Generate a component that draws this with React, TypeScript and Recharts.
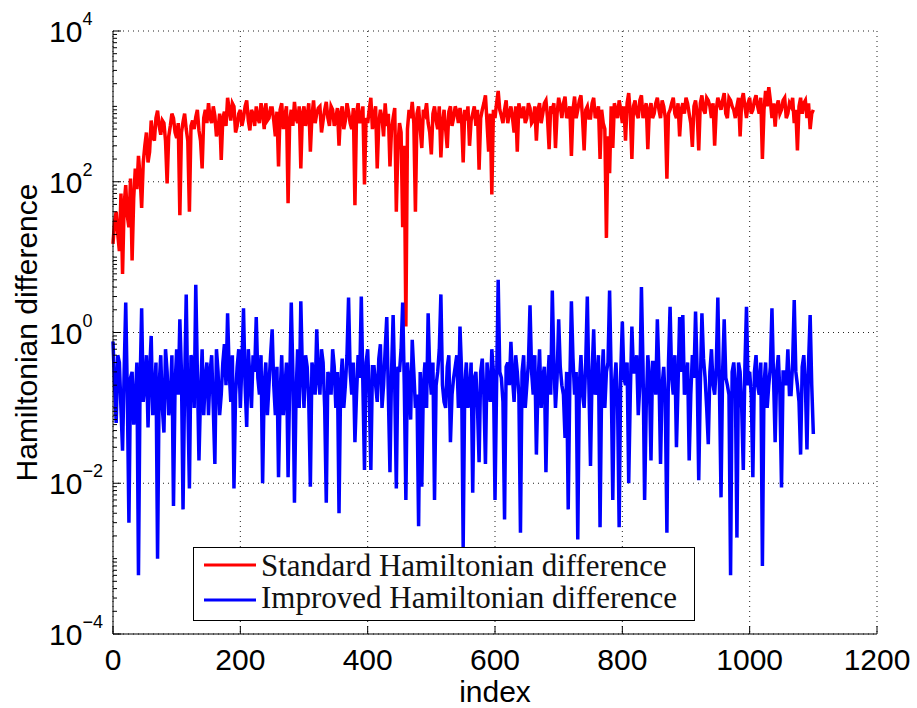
import React from 'react';
import { LineChart, Line, XAxis, YAxis, CartesianGrid, Legend, Label } from 'recharts';

// Values. "Main" samples sit at index 0, 5, 10, ... 1100;
// "Mid" samples sit half-way between them (2.5, 7.5, ... 1097.5).
const INDEX_STEP = 5;

const standardDiffMain = [
  15, 40, 12, 6, 90, 25, 9, 150, 220, 45,
  300, 180, 650, 350, 880, 420, 600, 95, 550, 700,
  380, 36, 620, 500, 40, 650, 720, 480, 150, 900,
  1100, 600, 750, 500, 195, 850, 1300, 650, 1000, 550,
  900, 700, 1200, 480, 800, 1000, 600, 850, 1100, 700,
  950, 400, 160, 1100, 750, 52, 900, 1150, 600, 150,
  1000, 750, 250, 1200, 800, 1000, 650, 1150, 550, 900,
  700, 300, 1000, 650, 850, 500, 49, 1100, 700, 92,
  600, 1300, 750, 150, 900, 400, 550, 160, 700, 40,
  600, 25, 1.2, 900, 1150, 40, 1000, 280, 800, 600,
  230, 1000, 500, 210, 900, 280, 1000, 700, 850, 950,
  180, 650, 300, 800, 550, 145, 900, 1400, 250, 68,
  700, 1600, 750, 900, 600, 1000, 450, 250, 850, 1000,
  700, 950, 650, 350, 1100, 800, 1200, 270, 900, 280,
  1300, 700, 1350, 800, 220, 1350, 900, 1400, 260, 1000,
  700, 1300, 800, 200, 600, 18, 130, 280, 900, 1200,
  600, 350, 1500, 200, 1200, 700, 1400, 900, 270, 1100,
  800, 1300, 700, 1000, 110, 900, 1300, 700, 400, 1100,
  1300, 800, 290, 1200, 260, 1400, 800, 1200, 700, 300,
  1300, 900, 1500, 700, 1200, 900, 1000, 400, 1500, 700,
  1300, 900, 1400, 800, 200, 1600, 1800, 700, 540, 1200,
  900, 1300, 800, 1000, 600, 260, 1300, 1100, 700, 500,
  900,
];

const standardDiffMid = [
  30, 20, 70, 50, 35, 110, 60, 80, 120, 180,
  450, 250, 400, 700, 550, 650, 350, 400, 800, 450,
  600, 450, 800, 350, 550, 500, 900, 350, 700, 600,
  700, 1000, 400, 800, 700, 550, 900, 1100, 450, 800,
  550, 1000, 650, 900, 550, 700, 1100, 500, 650, 950,
  650, 850, 900, 500, 1000, 650, 550, 700, 1000, 800,
  550, 1100, 750, 600, 950, 450, 900, 700, 1000, 550,
  950, 800, 500, 1100, 600, 950, 800, 600, 1000, 700,
  900, 500, 1000, 600, 700, 1100, 800, 500, 950, 300,
  450, 300, 500, 700, 600, 800, 500, 900, 1100, 450,
  800, 650, 1000, 600, 500, 850, 550, 1000, 600, 700,
  900, 1000, 650, 1000, 900, 700, 1100, 600, 800, 900,
  1100, 900, 600, 1200, 800, 700, 1000, 1100, 700, 600,
  1100, 600, 1000, 900, 600, 1100, 700, 1000, 1100, 800,
  1000, 1100, 700, 1000, 900, 700, 1200, 700, 900, 700,
  1100, 700, 1000, 900, 500, 400, 1000, 1100, 700, 900,
  1000, 1100, 800, 1000, 800, 1200, 700, 1100, 900, 700,
  1100, 900, 1200, 700, 800, 1100, 800, 1100, 900, 800,
  1100, 600, 1000, 800, 1100, 900, 1300, 1000, 1100, 900,
  1100, 1200, 800, 1300, 1000, 700, 1300, 1200, 1000, 1100,
  800, 1200, 1000, 1300, 900, 1000, 1200, 1100, 1000, 800,
  1200, 700, 1100, 1300, 900, 1000, 800, 1200, 1100, 800,
];

const improvedDiffMain = [
  0.76, 0.063, 0.4, 0.027, 2.5, 0.003, 0.3, 0.12, 0.0006, 2.1,
  0.2, 0.055, 0.9, 0.15, 0.001, 0.5, 0.047, 0.3, 0.12, 0.005,
  0.6, 1.5, 0.0045, 3.2, 0.0085, 0.4, 4.3, 0.02, 0.6, 0.25,
  0.08, 0.5, 0.018, 0.3, 0.15, 0.7, 1.8, 0.12, 0.0085, 0.35,
  0.1, 2.1, 0.056, 0.25, 0.5, 1.6, 0.15, 0.01, 0.4, 0.2,
  1.1, 0.08, 0.012, 0.5, 0.18, 0.012, 2.5, 0.0055, 0.6, 2.6,
  0.1, 0.35, 0.009, 0.3, 1.1, 0.15, 0.4, 0.0055, 0.25, 0.6,
  0.1, 0.004, 0.45, 0.2, 2.9, 0.15, 0.035, 0.5, 3.0, 0.015,
  0.6, 0.015, 0.35, 0.12, 0.7, 0.2, 1.6, 0.014, 1.7, 0.0085,
  0.3, 2.5, 0.006, 0.2, 0.8, 0.1, 0.0027, 0.009, 0.4, 1.8,
  0.15, 0.006, 0.3, 3.2, 0.12, 0.35, 0.035, 0.25, 0.5, 1.2,
  0.0014, 0.4, 0.15, 0.0075, 0.3, 0.019, 0.45, 0.018, 0.2, 0.6,
  0.006, 5, 0.25, 0.0033, 0.4, 0.75, 0.12, 0.3, 0.0022, 0.5,
  0.2, 2.3, 0.15, 0.024, 0.6, 0.25, 0.014, 0.5, 3.6, 0.1,
  1.5, 0.2, 0.04, 0.0045, 2.6, 0.15, 0.0018, 0.5, 0.1, 3.0,
  0.017, 1.1, 0.2, 0.0026, 0.6, 0.3, 3.6, 0.006, 0.4, 0.0026,
  1.4, 0.2, 0.01, 1.2, 0.3, 0.08, 4.0, 0.006, 0.5, 0.02,
  0.4, 1.5, 0.018, 0.35, 0.0022, 2.2, 0.15, 0.03, 1.6, 1.7,
  0.2, 0.02, 0.5, 1.9, 0.011, 1.8, 0.25, 0.033, 0.6, 0.15,
  2.9, 0.0065, 1.5, 0.2, 0.0006, 0.4, 0.0019, 0.3, 0.015, 2.2,
  0.3, 0.012, 0.5, 0.15, 0.0008, 0.4, 0.2, 2.1, 0.035, 0.5,
  0.0088, 0.3, 0.6, 0.15, 2.7, 0.2, 0.024, 0.5, 0.028, 1.7,
  0.045,
];

const improvedDiffMid = [
  0.2, 0.5, 0.1, 0.3, 0.15, 0.25, 0.06, 0.4, 0.2, 0.12,
  0.5, 0.3, 0.08, 0.4, 0.2, 0.1, 0.6, 0.08, 0.5, 0.2,
  0.15, 0.3, 0.2, 0.12, 0.5, 0.1, 0.3, 0.15, 0.08, 0.4,
  0.3, 0.1, 0.6, 0.08, 0.4, 0.2, 0.3, 0.5, 0.15, 0.6,
  0.4, 0.2, 0.6, 0.1, 0.3, 0.25, 0.5, 0.2, 0.08, 0.5,
  0.2, 0.35, 0.15, 0.08, 0.4, 0.2, 0.3, 0.15, 0.1, 0.3,
  0.5, 0.12, 0.4, 0.15, 0.25, 0.6, 0.1, 0.3, 0.15, 0.35,
  0.3, 0.2, 0.1, 0.5, 0.3, 0.4, 0.15, 0.25, 0.2, 0.4,
  0.15, 0.35, 0.2, 0.45, 0.1, 0.6, 0.15, 0.3, 0.2, 0.35,
  0.6, 0.2, 0.4, 0.07, 0.3, 0.15, 0.3, 0.2, 0.1, 0.3,
  0.4, 0.2, 0.6, 0.2, 0.1, 0.5, 0.15, 0.35, 0.1, 0.3,
  0.2, 0.1, 0.4, 0.25, 0.1, 0.3, 0.15, 0.4, 0.12, 0.3,
  0.2, 0.3, 0.12, 0.35, 0.2, 0.25, 0.5, 0.15, 0.3, 0.1,
  0.4, 0.3, 0.5, 0.2, 0.1, 0.35, 0.2, 0.15, 0.4, 0.25,
  0.35, 0.15, 0.3, 0.2, 0.45, 0.3, 0.2, 0.15, 0.4, 0.2,
  0.3, 0.15, 0.5, 0.2, 0.1, 0.4, 0.25, 0.2, 0.12, 0.3,
  0.25, 0.4, 0.15, 0.3, 0.5, 0.2, 0.35, 0.1, 0.25, 0.4,
  0.15, 0.3, 0.2, 0.12, 0.4, 0.25, 0.5, 0.2, 0.3, 0.15,
  0.4, 0.15, 0.25, 0.3, 0.2, 0.45, 0.1, 0.3, 0.2, 0.35,
  0.2, 0.3, 0.25, 0.15, 0.3, 0.2, 0.4, 0.1, 0.35, 0.2,
  0.15, 0.3, 0.2, 0.4, 0.2, 0.1, 0.35, 0.25, 0.3, 0.15,
  0.3, 0.2, 0.15, 0.4, 0.3, 0.12, 0.35, 0.2, 0.4, 0.2,
];

const seriesNames = ['Standard Hamiltonian difference', 'Improved Hamiltonian difference'];
const seriesColors = ['#ff0000', '#0000ff'];

const xTicks = [0, 200, 400, 600, 800, 1000, 1200];
const yMajorTicks = [1e-4, 1e-2, 1, 1e2, 1e4];
const yMajorExponents = ['\u22124', '\u22122', '0', '2', '4'];
const yDecades = [1e-4, 1e-3, 1e-2, 1e-1, 1, 10, 100, 1000];
const yMinorMultipliers = [2, 3, 4, 5, 6, 7, 8, 9];
const yAllTicks = [
  ...yDecades.flatMap((d) => [d, ...yMinorMultipliers.map((m) => m * d)]),
  1e4,
];

const xLabel = 'index';
const yLabel = 'Hamiltonian difference';

// Build the row table by interleaving main and mid samples
const data: { idx: number; standard: number; improved: number }[] = [];
standardDiffMain.forEach((v, i) => {
  data.push({ idx: i * INDEX_STEP, standard: v, improved: improvedDiffMain[i] });
  if (i < standardDiffMid.length) {
    data.push({
      idx: i * INDEX_STEP + INDEX_STEP / 2,
      standard: standardDiffMid[i],
      improved: improvedDiffMid[i],
    });
  }
});

const SANS = '"Liberation Sans", Arial, Helvetica, sans-serif';
const SERIF = '"Liberation Serif", "Times New Roman", serif';

const BottomTick = (props: any) => {
  const { x, y, payload } = props;
  return (
    <g>
      <line x1={x} y1={y} x2={x} y2={y - 8} stroke="#000" strokeWidth={1} />
      <text x={x} y={y + 36} textAnchor="middle" fontFamily={SANS} fontSize={30} fill="#000">
        {payload.value}
      </text>
    </g>
  );
};

const TopTick = (props: any) => {
  const { x, y } = props;
  return <line x1={x} y1={y} x2={x} y2={y + 8} stroke="#000" strokeWidth={1} />;
};

const LeftTick = (props: any) => {
  const { x, y, payload } = props;
  const k = yMajorTicks.indexOf(payload.value);
  const major = k >= 0;
  return (
    <g>
      <line x1={x} y1={y} x2={x + (major ? 8 : 4)} y2={y} stroke="#000" strokeWidth={1} />
      {major && (
        <text x={x - 64} y={y + 11} fontFamily={SANS} fontSize={30} fill="#000">
          10
          <tspan dy={-17} fontSize={18}>
            {yMajorExponents[k]}
          </tspan>
        </text>
      )}
    </g>
  );
};

const RightTick = (props: any) => {
  const { x, y, payload } = props;
  const major = yMajorTicks.indexOf(payload.value) >= 0;
  return <line x1={x} y1={y} x2={x - (major ? 8 : 4)} y2={y} stroke="#000" strokeWidth={1} />;
};

const renderLegend = (props: any) => {
  const payload = props.payload && props.payload.length ? props.payload : [];
  const items = seriesNames.map((name, i) => {
    const p = payload.find((e: any) => e.value === name);
    return { name, color: p ? p.color : seriesColors[i] };
  });
  return (
    <svg width={503} height={75} style={{ display: 'block' }}>
      <rect x={0.5} y={0.5} width={501} height={73} fill="#fff" stroke="#000" strokeWidth={1} />
      {items.map((it, i) => (
        <g key={it.name}>
          <line x1={11} x2={63} y1={18 + i * 35} y2={18 + i * 35} stroke={it.color} strokeWidth={3} />
          <text x={68} y={29 + i * 32} fontFamily={SERIF} fontSize={31} fill="#111">
            {it.name}
          </text>
        </g>
      ))}
    </svg>
  );
};

export default function App() {
  return (
    <div style={{ position: 'absolute', left: 0, top: 0, background: '#fff' }}>
      <LineChart
        width={917}
        height={708}
        data={data}
        margin={{ top: 31, right: 40, bottom: 14, left: 13 }}
      >
        <CartesianGrid
          xAxisId="b"
          yAxisId="L"
          stroke="#222"
          strokeDasharray="1 4"
          horizontalValues={yMajorTicks}
          verticalValues={xTicks}
        />
        <XAxis
          xAxisId="b"
          dataKey="idx"
          type="number"
          domain={[0, 1200]}
          ticks={xTicks}
          interval={0}
          height={60}
          tickSize={0}
          tickMargin={0}
          tickLine={false}
          axisLine={{ stroke: '#000', strokeWidth: 1 }}
          tick={<BottomTick />}
        >
          <Label
            content={(p: any) => {
              const vb = p.viewBox || { x: 113, y: 634, width: 764, height: 60 };
              return (
                <text
                  x={vb.x + vb.width / 2}
                  y={vb.y + 68}
                  textAnchor="middle"
                  fontFamily={SANS}
                  fontSize={30}
                  fill="#000"
                >
                  {xLabel}
                </text>
              );
            }}
          />
        </XAxis>
        <XAxis
          xAxisId="t"
          orientation="top"
          dataKey="idx"
          type="number"
          domain={[0, 1200]}
          ticks={xTicks}
          interval={0}
          height={0}
          tickSize={0}
          tickMargin={0}
          tickLine={false}
          axisLine={{ stroke: '#000', strokeWidth: 1 }}
          tick={<TopTick />}
        />
        <YAxis
          yAxisId="L"
          type="number"
          scale="log"
          domain={[1e-4, 1e4]}
          allowDataOverflow
          ticks={yAllTicks}
          interval={0}
          width={100}
          tickSize={0}
          tickMargin={0}
          tickLine={false}
          axisLine={{ stroke: '#000', strokeWidth: 1 }}
          tick={<LeftTick />}
        >
          <Label
            content={(p: any) => {
              const vb = p.viewBox || { x: 13, y: 31, width: 100, height: 603 };
              const cx = vb.x + 24;
              const cy = vb.y + vb.height / 2;
              return (
                <text
                  x={cx}
                  y={cy}
                  transform={`rotate(-90 ${cx} ${cy})`}
                  textAnchor="middle"
                  fontFamily={SANS}
                  fontSize={30}
                  fill="#000"
                >
                  {yLabel}
                </text>
              );
            }}
          />
        </YAxis>
        <YAxis
          yAxisId="R"
          orientation="right"
          type="number"
          scale="log"
          domain={[1e-4, 1e4]}
          allowDataOverflow
          ticks={yAllTicks}
          interval={0}
          width={0}
          tickSize={0}
          tickMargin={0}
          tickLine={false}
          axisLine={{ stroke: '#000', strokeWidth: 1 }}
          tick={<RightTick />}
        />
        <Line
          xAxisId="b"
          yAxisId="L"
          type="linear"
          dataKey="standard"
          name={seriesNames[0]}
          stroke={seriesColors[0]}
          strokeWidth={3.5}
          dot={false}
          activeDot={false}
          isAnimationActive={false}
        />
        <Line
          xAxisId="b"
          yAxisId="L"
          type="linear"
          dataKey="improved"
          name={seriesNames[1]}
          stroke={seriesColors[1]}
          strokeWidth={3.5}
          dot={false}
          activeDot={false}
          isAnimationActive={false}
        />
        <Legend
          layout="vertical"
          align="center"
          verticalAlign="middle"
          wrapperStyle={{ left: 193, top: 547, width: 503, height: 75, right: 'auto', bottom: 'auto' }}
          content={renderLegend}
        />
      </LineChart>
    </div>
  );
}
